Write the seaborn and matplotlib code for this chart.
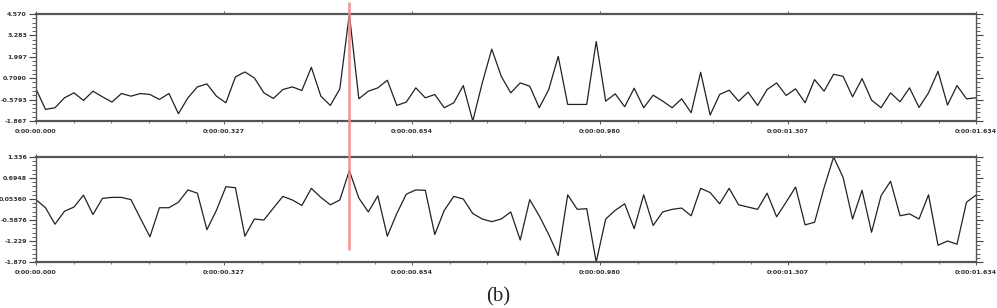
import numpy as np
import pandas as pd
import seaborn as sns
import matplotlib.pyplot as plt
from matplotlib.ticker import AutoMinorLocator, FixedLocator
from matplotlib.lines import Line2D
from matplotlib.transforms import blended_transform_factory

# valores (100 amostras por canal)
sinal_a = [
    0.066, -1.169, -1.070, -0.472, -0.173, -0.631, -0.073, -0.412, -0.731, -0.213,
    -0.372, -0.213, -0.273, -0.572, -0.213, -1.429, -0.472, 0.186, 0.365, -0.372,
    -0.771, 0.784, 1.083, 0.724, -0.173, -0.512, 0.026, 0.186, -0.033, 1.362,
    -0.372, -0.930, 0.066, 4.570, -0.532, -0.073, 0.126, 0.584, -0.930, -0.731,
    0.126, -0.472, -0.273, -1.070, -0.771, 0.265, -1.867, 0.425, 2.458, 0.823,
    -0.173, 0.425, 0.226, -1.070, 0.026, 2.019, -0.871, -0.871, -0.871, 2.916,
    -0.671, -0.233, -1.010, 0.106, -1.070, -0.313, -0.671, -1.070, -0.532, -1.369,
    1.063, -1.508, -0.273, -0.014, -0.671, -0.133, -0.930, 0.026, 0.425, -0.332,
    0.066, -0.771, 0.624, -0.073, 0.943, 0.823, -0.412, 0.684, -0.611, -1.070,
    -0.173, -0.711, 0.126, -1.050, -0.173, 1.122, -0.910, 0.265, -0.532, -0.472,
]
sinal_b = [
    0.034, -0.213, -0.716, -0.321, -0.193, 0.172, -0.420, 0.073, 0.103, 0.103,
    0.034, -0.538, -1.101, -0.213, -0.213, -0.045, 0.330, 0.231, -0.883, -0.292,
    0.429, 0.399, -1.081, -0.558, -0.588, -0.223, 0.133, 0.024, -0.144, 0.379,
    0.103, -0.124, 0.024, 0.922, 0.083, -0.341, 0.152, -1.081, -0.390, 0.202,
    0.330, 0.320, -1.031, -0.292, 0.133, 0.054, -0.390, -0.558, -0.637, -0.558,
    -0.341, -1.199, 0.034, -0.459, -1.031, -1.673, 0.182, -0.262, -0.242, -1.870,
    -0.558, -0.292, -0.094, -0.854, 0.182, -0.755, -0.341, -0.262, -0.223, -0.459,
    0.379, 0.251, -0.094, 0.379, -0.124, -0.193, -0.262, 0.231, -0.489, -0.045,
    0.419, -0.736, -0.657, 0.399, 1.336, 0.715, -0.558, 0.320, -0.962, 0.152,
    0.596, -0.459, -0.400, -0.558, 0.182, -1.357, -1.229, -1.327, -0.045, 0.172,
]
tempo = np.linspace(0, 1.634, len(sinal_a))

xticks = [0.0, 0.327, 0.654, 0.980, 1.307, 1.634]
xlabels = ["0:00:00.000", "0:00:00.327", "0:00:00.654",
           "0:00:00.980", "0:00:01.307", "0:00:01.634"]
yticks_a = [-1.867, -0.5793, 0.7090, 1.997, 3.283, 4.570]
ylabels_a = ["-1.867", "-0.5793", "0.7090", "1.997", "3.283", "4.570"]
yticks_b = [-1.870, -1.229, -0.5876, 0.0536, 0.6948, 1.336]
ylabels_b = ["-1.870", "-1.229", "-0.5876", "0.05360", "0.6948", "1.336"]
indice_marca = 33  # pico marcado em vermelho

sns.set_style("white")
plt.rcParams["font.family"] = ["DejaVu Sans"]

df = pd.DataFrame({"t": tempo, "a": sinal_a, "b": sinal_b})

fig = plt.figure(figsize=(9.97, 3.08), dpi=100)
ax1 = fig.add_axes([36 / 997, 187 / 308, 940 / 997, 107 / 308])
ax2 = fig.add_axes([36 / 997, 46 / 308, 940 / 997, 105 / 308])

paineis = [(ax1, "a", yticks_a, ylabels_a), (ax2, "b", yticks_b, ylabels_b)]
for ax, col, yt, yl in paineis:
    sns.lineplot(data=df, x="t", y=col, ax=ax, color="#222222", linewidth=0.9)
    ax.set_xlim(0, 1.634)
    ax.set_ylim(yt[0], yt[-1])
    ax.set_xlabel("")
    ax.set_ylabel("")
    ax.set_xticks(xticks)
    ax.set_xticklabels(xlabels, fontsize=4.5, fontweight="bold", color="#333333")
    ax.set_yticks(yt)
    ax.set_yticklabels(yl, fontsize=4.5, fontweight="bold", color="#333333")
    ax.xaxis.set_minor_locator(AutoMinorLocator(5))
    ax.yaxis.set_minor_locator(AutoMinorLocator(5))
    ax.tick_params(axis="y", which="major", direction="out", length=5, width=0.8,
                   left=True, right=True, pad=1.5, color="#444444")
    ax.tick_params(axis="y", which="minor", direction="out", length=3, width=0.6,
                   left=True, right=True, color="#444444")
    ax.tick_params(axis="x", which="major", direction="out", length=2.5, width=0.6,
                   bottom=True, top=True, pad=3, color="#444444")
    ax.tick_params(axis="x", which="minor", direction="out", length=1.5, width=0.5,
                   bottom=True, top=False, color="#444444")
    for lado in ["top", "bottom"]:
        ax.spines[lado].set_linewidth(1.6)
        ax.spines[lado].set_color("#555555")
    for lado in ["left", "right"]:
        ax.spines[lado].set_linewidth(1.0)
        ax.spines[lado].set_color("#555555")

# linha vermelha que atravessa os dois painéis
trans = blended_transform_factory(ax1.transData, fig.transFigure)
x_marca = tempo[indice_marca]
fig.add_artist(Line2D([x_marca, x_marca], [1 - 3 / 308, 1 - 249 / 308],
                      transform=trans, color="#f08a8a", linewidth=2, alpha=0.85))

fig.text(0.5, 0.005, "(b)", ha="center", va="bottom",
         fontsize=15, family=["Liberation Serif"])

fig.savefig("out.png", dpi=100)
